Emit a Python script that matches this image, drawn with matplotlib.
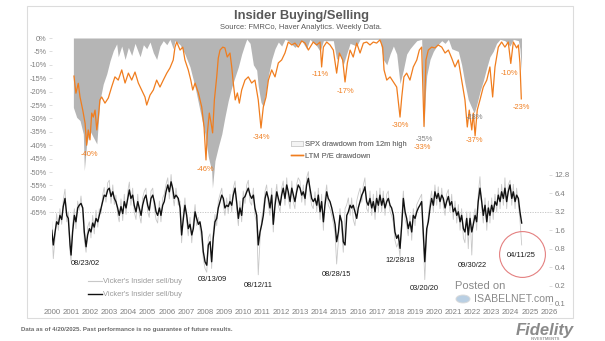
import matplotlib
matplotlib.use('Agg')
import matplotlib.pyplot as plt
from matplotlib.patches import Rectangle, Patch
from matplotlib.lines import Line2D

plt.rcParams['font.family'] = ['Liberation Sans', 'DejaVu Sans']

# ---- data ----
# SPX drawdown from 12m high (%)
spx_t = [2002.24, 2002.41, 2002.58, 2002.75, 2002.80, 2002.92, 2003.09, 2003.26, 2003.44, 2003.60,
         2003.77, 2003.95, 2004.12, 2004.29, 2004.46, 2004.54, 2004.72, 2004.89, 2005.06, 2005.23,
         2005.40, 2005.66, 2005.83, 2006.00, 2006.17, 2006.34, 2006.51, 2006.68, 2006.85, 2007.03,
         2007.19, 2007.36, 2007.45, 2007.71, 2007.96, 2008.22, 2008.48, 2008.73, 2008.99, 2009.16,
         2009.33, 2009.37, 2009.50, 2009.67, 2009.85, 2010.01, 2010.18, 2010.36, 2010.53, 2010.70,
         2010.87, 2011.04, 2011.13, 2011.30, 2011.47, 2011.64, 2011.72, 2011.86, 2011.98, 2012.12,
         2012.24, 2012.41, 2012.58, 2012.75, 2012.92, 2013.09, 2013.26, 2013.60, 2013.95, 2014.20,
         2014.37, 2014.72, 2014.89, 2015.06, 2015.57, 2015.74, 2015.91, 2016.08, 2016.25, 2016.43,
         2016.77, 2016.94, 2017.45, 2017.96, 2018.13, 2018.31, 2018.48, 2018.65, 2018.82, 2018.99,
         2019.16, 2019.33, 2019.50, 2019.67, 2019.85, 2020.10, 2020.22, 2020.30, 2020.36, 2020.53,
         2020.70, 2020.87, 2021.13, 2021.30, 2021.47, 2021.64, 2021.98, 2022.15, 2022.32, 2022.49,
         2022.67, 2022.79, 2022.92, 2023.09, 2023.26, 2023.44, 2023.60, 2023.77, 2023.94, 2024.12,
         2024.37, 2024.63, 2024.80, 2025.06, 2025.14, 2025.22]
spx_dd = [-25.9, -29.6, -30.8, -35.8, -49.5, -39.5, -34.6, -37.0, -39.5, -23.4,
          -17.2, -13.4, -8.5, -4.7, -2.2, -7.0, -3.0, -8.0, -3.5, -6.5,
          -2.0, -7.0, -2.5, -4.0, -1.5, -5.5, -8.0, -3.0, -1.0, -2.5,
          -0.5, -4.0, -1.0, -2.5, -6.0, -10.8, -18.3, -27.0, -35.8, -44.4,
          -49.5, -56.0, -45.8, -40.7, -35.8, -29.5, -23.4, -18.4, -14.5, -10.8,
          -6.0, -2.2, -0.4, -2.0, -10.0, -12.0, -18.0, -24.0, -25.7, -20.0,
          -14.0, -8.0, -4.0, -1.5, -3.0, -0.5, -1.0, -3.5, -1.0, -4.0,
          -0.5, -3.0, -5.0, -1.0, -1.0, -8.0, -6.0, -10.0, -6.0, -2.0,
          -3.0, -0.5, -0.5, -0.5, -8.0, -10.0, -6.0, -3.0, -6.0, -17.0,
          -12.0, -6.0, -4.0, -2.5, -1.0, -0.5, -34.0, -20.0, -14.0, -8.0,
          -5.0, -3.0, -1.0, -2.0, -0.5, -4.0, -5.0, -10.0, -17.0, -23.0,
          -26.0, -28.0, -25.0, -20.0, -16.0, -11.0, -7.0, -5.0, -2.0, -0.5,
          -1.0, -3.0, -0.5, -1.0, -4.0, -12.0]

# LTM P/E drawdown (%)
pe_t = [2002.27, 2002.37, 2002.49, 2002.58, 2002.72, 2002.84, 2002.92, 2003.00, 2003.09, 2003.18,
        2003.26, 2003.35, 2003.44, 2003.52, 2003.60, 2003.69, 2003.86, 2004.03, 2004.20, 2004.37,
        2004.54, 2004.72, 2004.89, 2005.06, 2005.23, 2005.40, 2005.57, 2005.74, 2005.91, 2006.00,
        2006.17, 2006.34, 2006.51, 2006.68, 2006.85, 2007.03, 2007.19, 2007.36, 2007.45, 2007.54,
        2007.71, 2007.85, 2007.96, 2008.13, 2008.26, 2008.36, 2008.48, 2008.65, 2008.82, 2008.94,
        2009.04, 2009.11, 2009.21, 2009.30, 2009.38, 2009.47, 2009.59, 2009.67, 2009.76, 2009.90,
        2010.01, 2010.13, 2010.27, 2010.36, 2010.44, 2010.54, 2010.65, 2010.75, 2010.87, 2011.04,
        2011.21, 2011.38, 2011.55, 2011.72, 2011.86, 2011.98, 2012.12, 2012.24, 2012.41, 2012.58,
        2012.75, 2012.92, 2013.09, 2013.26, 2013.44, 2013.60, 2013.77, 2013.95, 2014.12, 2014.29,
        2014.54, 2014.72, 2014.89, 2014.97, 2015.06, 2015.23, 2015.40, 2015.57, 2015.74, 2015.88,
        2016.05, 2016.17, 2016.29, 2016.43, 2016.59, 2016.77, 2016.94, 2017.11, 2017.28, 2017.45,
        2017.62, 2017.79, 2017.96, 2018.10, 2018.17, 2018.31, 2018.48, 2018.65, 2018.82, 2018.99,
        2019.08, 2019.19, 2019.33, 2019.50, 2019.67, 2019.85, 2019.98, 2020.10, 2020.22, 2020.32,
        2020.44, 2020.61, 2020.78, 2020.95, 2021.13, 2021.30, 2021.47, 2021.64, 2021.81, 2021.98,
        2022.15, 2022.32, 2022.44, 2022.54, 2022.67, 2022.75, 2022.84, 2022.95, 2023.09, 2023.26,
        2023.44, 2023.60, 2023.74, 2023.86, 2024.03, 2024.20, 2024.37, 2024.54, 2024.67, 2024.80,
        2024.97, 2025.06, 2025.14, 2025.21]
pe_dd = [-14.2, -20.6, -16.9, -22.0, -26.9, -31.8, -40.0, -34.3, -38.0, -28.0,
         -29.5, -26.9, -34.3, -29.5, -23.1, -22.0, -24.3, -22.4, -18.3, -14.5,
         -15.7, -11.9, -16.8, -13.1, -15.7, -12.7, -16.8, -19.4, -22.0, -25.0,
         -21.3, -19.4, -15.7, -18.3, -15.7, -13.1, -11.2, -8.2, -3.4, -1.5,
         -4.5, -3.4, -8.2, -11.9, -15.7, -19.4, -16.8, -20.5, -25.7, -33.2,
         -45.5, -35.4, -28.0, -31.7, -35.4, -23.1, -14.5, -7.5, -4.5, -3.4,
         -3.7, -7.1, -5.6, -10.8, -16.8, -23.1, -20.5, -24.3, -19.4, -15.7,
         -14.5, -16.8, -15.7, -23.1, -33.6, -25.7, -22.0, -15.7, -11.9, -14.5,
         -9.3, -8.2, -5.6, -1.5, -2.6, -1.9, -3.4, -1.1, -1.9, -4.5,
         -1.5, -2.6, -1.5, -10.8, -3.4, -1.5, -2.6, -4.5, -13.1, -5.6,
         -8.2, -16.4, -9.3, -4.5, -7.1, -1.9, -5.6, -1.9, -1.5, -2.6,
         -1.5, -1.9, -0.7, -3.4, -11.9, -15.7, -14.5, -16.4, -18.3, -29.5,
         -22.0, -14.5, -13.1, -15.7, -10.8, -8.2, -4.5, -3.4, -33.0, -8.2,
         -4.5, -3.4, -3.7, -2.6, -3.4, -5.6, -4.5, -7.5, -10.8, -8.2,
         -15.7, -23.1, -33.2, -26.9, -34.3, -28.0, -36.5, -26.9, -23.1, -18.3,
         -15.7, -10.8, -22.0, -10.8, -3.4, -1.5, -3.4, -1.5, -9.5, -1.5,
         -3.7, -2.6, -9.3, -22.7]

# Vicker's insider sell/buy ratio (weekly, smoothed and raw)
vick_t = [2001.13, 2001.21, 2001.30, 2001.38, 2001.47, 2001.55, 2001.64, 2001.72, 2001.81, 2001.90, 2001.98,
          2002.07, 2002.12, 2002.20, 2002.29, 2002.37, 2002.46, 2002.54, 2002.63, 2002.72, 2002.80, 2002.89, 2002.97,
          2003.06, 2003.14, 2003.23, 2003.31, 2003.40, 2003.49, 2003.57, 2003.66, 2003.74, 2003.82, 2003.91,
          2004.00, 2004.08, 2004.17, 2004.26, 2004.34, 2004.42, 2004.51, 2004.59, 2004.68, 2004.77, 2004.85, 2004.94,
          2005.03, 2005.11, 2005.19, 2005.28, 2005.36, 2005.45, 2005.54, 2005.62, 2005.71, 2005.79, 2005.88, 2005.96,
          2006.05, 2006.13, 2006.22, 2006.31, 2006.39, 2006.48, 2006.56, 2006.65, 2006.73, 2006.82, 2006.90, 2006.99,
          2007.08, 2007.16, 2007.25, 2007.33, 2007.41, 2007.50, 2007.62,
          2007.71, 2007.79, 2007.88, 2007.96,
          2008.05, 2008.13, 2008.22, 2008.31, 2008.39, 2008.48, 2008.56, 2008.65, 2008.73, 2008.82, 2008.90, 2008.99,
          2009.08, 2009.16, 2009.25, 2009.33, 2009.41, 2009.50, 2009.59, 2009.67, 2009.76, 2009.85, 2009.93,
          2010.01, 2010.10, 2010.18, 2010.27, 2010.36, 2010.44, 2010.53, 2010.61, 2010.70, 2010.78, 2010.87, 2010.95,
          2011.04, 2011.13, 2011.21, 2011.30, 2011.38, 2011.47, 2011.55, 2011.64, 2011.72, 2011.81, 2011.90, 2011.98,
          2012.07, 2012.15, 2012.24, 2012.32, 2012.41, 2012.49, 2012.58, 2012.67, 2012.75, 2012.84, 2012.92,
          2013.00, 2013.09, 2013.18, 2013.26, 2013.35, 2013.44, 2013.52, 2013.60, 2013.69, 2013.77,
          2013.86, 2013.95,
          2014.03, 2014.12, 2014.20, 2014.29, 2014.37, 2014.46, 2014.54, 2014.63, 2014.72, 2014.80, 2014.89, 2014.97,
          2015.06, 2015.14, 2015.23, 2015.31, 2015.40, 2015.49, 2015.57, 2015.66, 2015.74, 2015.83, 2015.91,
          2016.00, 2016.08, 2016.17, 2016.26, 2016.34, 2016.43, 2016.51, 2016.59, 2016.68, 2016.77, 2016.85, 2016.94,
          2017.03, 2017.11, 2017.19, 2017.28, 2017.36, 2017.45, 2017.54, 2017.62, 2017.71, 2017.79, 2017.88, 2017.96,
          2018.05, 2018.13, 2018.22, 2018.31, 2018.39, 2018.48, 2018.56, 2018.65, 2018.73, 2018.82, 2018.90, 2018.99,
          2019.08, 2019.16, 2019.25, 2019.33, 2019.41, 2019.50, 2019.59, 2019.67, 2019.76, 2019.85, 2019.93,
          2020.01, 2020.10, 2020.18, 2020.26,
          2020.36, 2020.44, 2020.53, 2020.61, 2020.70, 2020.78, 2020.87, 2020.95,
          2021.04, 2021.13, 2021.21, 2021.30, 2021.38, 2021.47, 2021.55, 2021.64, 2021.72, 2021.81, 2021.90, 2021.98,
          2022.07, 2022.15, 2022.24, 2022.32, 2022.41, 2022.49, 2022.58, 2022.67, 2022.75, 2022.84, 2022.92,
          2023.00, 2023.09, 2023.18, 2023.26, 2023.35, 2023.44, 2023.52, 2023.60, 2023.69, 2023.77, 2023.86, 2023.95,
          2024.03, 2024.12, 2024.20, 2024.29, 2024.37, 2024.46, 2024.54, 2024.63, 2024.72, 2024.80, 2024.89, 2024.97,
          2025.06, 2025.14, 2025.23]
vick_smooth = [1.6, 0.92, 1.5, 2.2, 2.0, 2.8, 2.4, 3.9, 5.3, 2.8, 2.5,
               0.92, 0.63, 1.5, 2.8, 2.2, 3.7, 4.1, 4.4, 3.7, 1.5, 0.86, 1.34,
               1.7, 1.5, 2.1, 1.8, 2.5, 2.2, 2.8, 3.7, 4.7, 6.0, 5.7,
               7.3, 7.8, 5.7, 6.8, 5.3, 4.7, 3.7, 2.8, 3.9, 3.0, 4.7, 3.7,
               5.3, 7.3, 5.3, 6.0, 4.1, 3.2, 4.7, 3.7, 2.8, 4.1, 5.3, 6.0,
               4.1, 3.4, 5.3, 6.0, 4.7, 3.2, 2.8, 3.7, 2.8, 4.1, 4.7, 6.8,
               8.8, 6.8, 9.9, 7.8, 5.3, 6.0, 5.3,
               3.7, 1.34, 2.5, 4.1,
               2.8, 1.7, 2.0, 1.34, 1.7, 3.2, 2.5, 2.0, 2.2, 1.5, 0.72, 0.49,
               0.43, 0.92, 1.04, 0.49, 1.18, 2.2, 2.5, 3.7, 4.7, 6.0, 5.3,
               3.7, 4.1, 3.9, 4.7, 4.1, 6.0, 7.8, 4.7, 2.5, 3.7, 2.8, 5.3,
               5.7, 6.8, 7.8, 6.0, 5.3, 6.0, 3.7, 2.8, 0.92, 1.5, 2.0, 2.8,
               5.3, 6.8, 5.3, 3.7, 6.0, 2.0, 4.1, 6.8, 5.3, 4.1, 6.0,
               7.8, 5.3, 8.8, 6.8, 4.7, 7.8, 6.0, 4.7, 6.8, 8.8,
               7.8, 6.0,
               6.8, 5.3, 8.8, 11.3, 7.8, 5.3, 4.7, 5.3, 4.1, 6.0, 3.2, 4.7,
               2.2, 4.1, 6.8, 5.3, 4.7, 3.7, 2.8, 2.0, 1.04, 1.5, 2.8,
               2.2, 1.04, 0.92, 2.8, 3.2, 4.1, 3.7, 4.1, 3.2, 2.5, 3.7, 4.7,
               6.0, 6.8, 8.2, 4.7, 4.1, 5.3, 3.7, 4.7, 3.2, 5.3, 4.1, 6.0,
               4.1, 5.3, 3.7, 4.7, 5.3, 4.1, 3.7, 2.8, 1.5, 1.18, 1.34, 0.81,
               2.0, 5.3, 3.2, 2.5, 1.7, 2.2, 1.5, 2.8, 2.5, 3.2, 3.7,
               4.1, 4.7, 1.5, 0.49,
               1.7, 2.2, 3.7, 5.3, 4.1, 6.8, 5.3, 6.4,
               4.7, 6.0, 5.3, 3.7, 4.7, 5.7, 4.1, 4.7, 3.2, 3.7, 2.8, 3.2,
               2.2, 2.8, 1.7, 1.5, 2.5, 1.34, 2.5, 1.5, 2.0, 2.8, 2.2,
               4.7, 7.8, 4.7, 2.8, 4.1, 2.2, 3.7, 2.8, 4.1, 3.2, 4.7, 4.1,
               6.0, 4.7, 6.8, 5.3, 7.8, 4.7, 6.8, 8.8, 5.3, 6.8, 4.7, 6.0,
               5.3, 3.2, 2.1]
vick_raw = [2.2, 0.55, 1.2, 3.0, 1.6, 3.6, 2.0, 5.0, 7.5, 2.2, 3.2,
            0.7, 0.5, 2.0, 3.6, 1.7, 4.8, 3.4, 5.8, 3.0, 1.1, 0.7, 1.8,
            2.2, 1.2, 2.8, 1.4, 3.4, 1.8, 3.6, 3.0, 6.0, 8.0, 4.6,
            9.5, 10.5, 4.4, 8.8, 4.2, 6.0, 2.9, 2.2, 5.2, 2.3, 6.2, 2.9,
            7.0, 9.8, 4.1, 7.8, 3.2, 2.4, 6.2, 2.9, 2.1, 5.4, 7.0, 7.8,
            3.2, 2.6, 7.0, 7.8, 3.6, 2.4, 2.1, 4.8, 2.2, 5.4, 6.2, 9.0,
            11.5, 5.2, 13.0, 6.0, 4.0, 7.8, 4.1,
            4.8, 1.0, 3.2, 5.4,
            2.2, 1.3, 2.6, 1.0, 2.2, 4.2, 1.9, 2.6, 1.7, 1.1, 0.55, 0.38,
            0.33, 1.2, 1.4, 0.38, 1.5, 2.9, 1.9, 4.8, 6.2, 7.8, 4.1,
            2.8, 5.4, 3.0, 6.2, 3.2, 7.8, 10.2, 3.6, 1.9, 4.8, 2.2, 7.0,
            4.4, 8.8, 10.5, 4.6, 4.1, 7.8, 2.8, 2.1, 0.3, 1.1, 2.6, 3.6,
            7.0, 8.8, 4.1, 2.8, 7.8, 1.5, 5.4, 9.0, 4.1, 3.2, 7.8,
            10.2, 4.1, 11.5, 5.2, 3.6, 10.2, 4.6, 3.6, 9.0, 11.5,
            10.2, 4.6,
            8.8, 4.1, 11.5, 14.5, 6.0, 4.1, 3.6, 6.8, 3.2, 7.8, 2.4, 6.2,
            1.6, 5.4, 8.8, 4.1, 3.6, 2.8, 2.1, 1.4, 0.45, 1.1, 3.6,
            1.6, 0.7, 3.6, 4.2, 5.4, 2.8, 5.4, 2.4, 1.9, 4.8, 6.2, 7.8,
            4.6, 8.8, 11.5, 3.6, 3.2, 7.0, 2.8, 6.2, 2.4, 7.0, 3.2, 7.8,
            3.2, 7.0, 2.8, 6.2, 7.0, 3.2, 2.8, 2.1, 1.1, 0.85, 1.0, 0.6,
            2.6, 7.0, 2.4, 1.9, 1.3, 2.8, 1.1, 3.6, 1.9, 4.2, 4.8,
            5.4, 6.2, 1.1, 0.25,
            1.3, 2.8, 4.8, 7.0, 3.2, 8.8, 4.1, 8.2,
            3.6, 7.8, 4.1, 2.8, 6.2, 7.4, 3.2, 6.2, 2.4, 4.8, 2.1, 4.2,
            1.6, 3.6, 1.2, 1.0, 3.2, 0.8, 3.2, 0.63, 2.6, 3.6, 1.6,
            6.2, 12.0, 3.6, 2.1, 5.4, 1.6, 4.8, 2.1, 5.4, 2.4, 6.2, 3.2,
            7.8, 3.6, 9.0, 4.1, 11.5, 3.6, 8.8, 10.5, 4.1, 9.0, 3.6, 7.8,
            4.1, 2.4, 0.92]

year_labels = [str(y) for y in range(2000, 2027)]
pct_ticks = list(range(0, -70, -5))
ratio_ticks = [0.1, 0.2, 0.4, 0.8, 1.6, 3.2, 6.4, 12.8]

# call-outs: (x, y, text)
pe_notes = [(2003.04, -43.3, '-40%'), (2008.99, -49.2, '-46%'), (2011.86, -37.3, '-34%'),
            (2014.89, -13.8, '-11%'), (2016.17, -20.1, '-17%'), (2018.99, -32.8, '-30%'),
            (2020.12, -41.0, '-33%'), (2022.78, -38.1, '-37%'), (2024.58, -13.1, '-10%'),
            (2025.19, -26.1, '-23%')]
spx_notes = [(2020.22, -37.7, '-35%'), (2022.78, -29.8, '-28%')]
date_notes = [(2002.84, 0.467, '08/23/02'), (2009.35, 0.247, '03/13/09'), (2011.71, 0.197, '08/12/11'),
              (2015.71, 0.298, '08/28/15'), (2018.99, 0.523, '12/28/18'), (2020.22, 0.176, '03/20/20'),
              (2022.68, 0.433, '09/30/22'), (2025.19, 0.63, '04/11/25')]

GRAY_AREA = '#b5b5b5'
ORANGE = '#f07d1e'
TXT = '#7f7f7f'

fig = plt.figure(figsize=(6.05, 3.41), dpi=100)
W, H = 605, 341
ax = fig.add_axes([52 / W, 1 - 305 / H, 497 / W, 267 / H])
ax2 = ax.twinx()

# upper panel
ax.fill_between(spx_t, spx_dd, 0, color=GRAY_AREA, lw=0, zorder=1)
ax.plot(pe_t, pe_dd, color=ORANGE, lw=0.9, zorder=3)

x0, x1 = 2001.143, 2026.63
ax.set_xlim(x0, x1)
ax.set_ylim(-99.6, 0)
ax.set_yticks(pct_ticks)
ax.set_yticklabels(['%d%%' % v for v in pct_ticks])
ax.set_xticks([x0 + i * (x1 - x0) / 26 for i in range(27)])
ax.set_xticklabels(year_labels)
ax.tick_params(axis='x', length=0, pad=3, labelsize=5.6, colors=TXT)
ax.tick_params(axis='y', length=2, width=0.5, color='#d0d0d0', pad=2, labelsize=5.3, labelcolor=TXT)

# lower panel (log2 ratio)
ax2.set_yscale('log', base=2)
ax2.plot(vick_t, vick_raw, color='#c8c8c8', lw=0.6, zorder=2)
ax2.plot(vick_t, vick_smooth, color='#111111', lw=1.0, zorder=3)
ax2.axhline(3.2, color='#c0c0c0', lw=0.6, ls=(0, (1.5, 1.5)), zorder=1)
ax2.set_ylim(0.0963, 2208)
ax2.set_yticks(ratio_ticks)
ax2.set_yticklabels(['%g' % v for v in ratio_ticks])
ax2.minorticks_off()
ax2.tick_params(axis='y', length=2, width=0.5, color='#d0d0d0', pad=2, labelsize=5.6, labelcolor=TXT)

for a in (ax, ax2):
    for s in a.spines.values():
        s.set_visible(False)
ax.patch.set_visible(False)

for x, y, s in pe_notes:
    ax.text(x, y, s, color=ORANGE, fontsize=5.4, ha='center', va='center', zorder=5)
for x, y, s in spx_notes:
    ax.text(x, y, s, color='#808080', fontsize=5.4, ha='center', va='center', zorder=5)
for x, y, s in date_notes:
    ax2.text(x, y, s, color='#1a1a1a', fontsize=5.4, ha='center', va='center', zorder=5)

# circle around the latest reading
ax2.plot([2025.25], [0.656], marker='o', ms=33, mfc='none', mec='#e48080', mew=0.8, zorder=4)

# legends
leg1 = ax.legend(handles=[Patch(facecolor='#f4f4f4', edgecolor='#c8c8c8', lw=0.5),
                          Line2D([], [], color=ORANGE, lw=1.0)],
                 labels=['SPX drawdown from 12m high', 'LTM P/E drawdown'],
                 loc='upper left', bbox_to_anchor=((291 - 52) / 497, (305 - 141) / 267),
                 frameon=False, fontsize=5.4, handlelength=1.6, handleheight=0.6,
                 handletextpad=0.25, labelspacing=0.6, borderaxespad=0, borderpad=0,
                 labelcolor='#7f7f7f')
ax.add_artist(leg1)
ax2.legend(handles=[Line2D([], [], color='#c8c8c8', lw=0.8),
                    Line2D([], [], color='#111111', lw=1.0)],
           labels=["Vicker's Insider sell/buy", "Vicker's Insider sell/buy"],
           loc='upper left', bbox_to_anchor=((88 - 52) / 497, (305 - 278) / 267),
           frameon=False, fontsize=5.4, handlelength=1.8, handletextpad=0.15,
           labelspacing=0.75, borderaxespad=0, borderpad=0, labelcolor='#9a9a9a')

# frame, titles, notes
fig.patches.append(Rectangle((27 / W, 1 - 318 / H), 546 / W, 312 / H, transform=fig.transFigure,
                             fill=False, edgecolor='#dcdcdc', lw=0.8))
fig.text(301 / W, 1 - 16 / H, 'Insider Buying/Selling', ha='center', va='center',
         fontsize=9.3, fontweight='bold', color='#595959')
fig.text(301 / W, 1 - 27.7 / H, 'Source: FMRCo, Haver Analytics. Weekly Data.', ha='center',
         va='center', fontsize=5.5, color='#595959')
fig.text(21 / W, 1 - 330 / H, 'Data as of 4/20/2025. Past performance is no guarantee of future results.',
         ha='left', va='center', fontsize=4.4, fontweight='bold', color='#6b6b6b')
fig.text(545 / W, 1 - 330 / H, 'Fidelity', ha='center', va='center', fontsize=12,
         fontweight='bold', style='italic', color='#8a8a8a')
fig.text(545 / W, 1 - 339 / H, 'INVESTMENTS', ha='center', va='center', fontsize=3,
         fontweight='bold', color='#9a9a9a')

# watermark
fig.text(480 / W, 1 - 286 / H, 'Posted on', ha='center', va='center', fontsize=8,
         color='#8a8a8a')
fig.text(474 / W, 1 - 299 / H, 'ISABELNET.com', ha='left', va='center', fontsize=7.6,
         color='#8a8a8a')
fig.patches.append(plt.Circle((463 / W, 1 - 299 / H), 7 / W, transform=fig.transFigure,
                              facecolor='#a8c4dc', edgecolor='#d8d8d8', lw=0.8, alpha=0.8))

fig.savefig('out.png', dpi=100)
